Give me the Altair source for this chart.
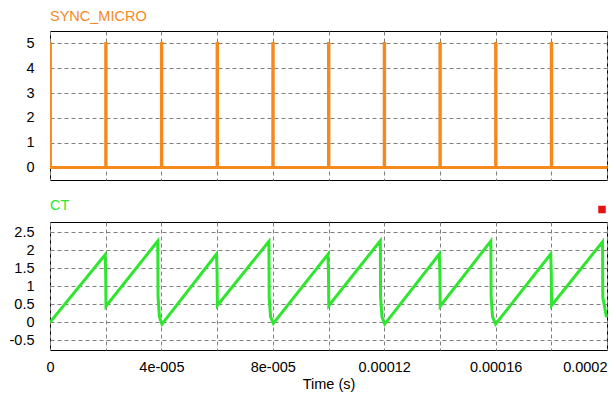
import altair as alt
import pandas as pd

# ---------------- data (time in microseconds) ----------------
sync_t = [0, 0, 0.15, 0.15,
          20, 20, 20.15, 20.15,
          40, 40, 40.15, 40.15,
          60, 60, 60.15, 60.15,
          80, 80, 80.15, 80.15,
          100, 100, 100.15, 100.15,
          120, 120, 120.15, 120.15,
          140, 140, 140.15, 140.15,
          160, 160, 160.15, 160.15,
          180, 180, 180.15, 180.15,
          200]
sync_v = [0, 5, 5, 0,
          0, 5, 5, 0,
          0, 5, 5, 0,
          0, 5, 5, 0,
          0, 5, 5, 0,
          0, 5, 5, 0,
          0, 5, 5, 0,
          0, 5, 5, 0,
          0, 5, 5, 0,
          0, 5, 5, 0,
          0]

ct_t = [0,
        19.8, 20.0, 20.1,
        38.7, 38.8, 39.3, 40.2,
        59.8, 60.0, 60.1,
        78.6, 78.7, 79.2, 80.2,
        99.8, 100.0, 100.1,
        118.6, 118.7, 119.2, 120.2,
        139.8, 140.0, 140.1,
        158.3, 158.4, 158.9, 160.0,
        179.8, 180.0, 180.1,
        198.4, 198.5, 199.8]
ct_v = [0,
        1.88, 1.35, 0.45,
        2.26, 0.70, 0.15, -0.05,
        1.90, 1.35, 0.47,
        2.25, 0.70, 0.15, -0.03,
        1.89, 1.35, 0.46,
        2.27, 0.70, 0.15, -0.05,
        1.90, 1.35, 0.45,
        2.26, 0.70, 0.15, -0.05,
        1.90, 1.35, 0.47,
        2.24, 0.70, 0.14]

x_grid = [0, 20, 40, 60, 80, 100, 120, 140, 160, 180, 200]
x_label_vals = [0, 40, 80, 120, 160, 200]
x_label_txt = ["0", "4e-005", "8e-005", "0.00012", "0.00016", "0.0002"]
top_y_ticks = [0, 1, 2, 3, 4, 5]
bot_y_ticks = [-0.5, 0, 0.5, 1, 1.5, 2, 2.5]

ORANGE = "#F5891C"
GREEN = "#2EE62E"
FONT = "Liberation Sans"
FS = 14.5
W = 557

sync_df = pd.DataFrame({"t": sync_t, "v": sync_v, "i": range(len(sync_t))})
ct_df = pd.DataFrame({"t": ct_t, "v": ct_v, "i": range(len(ct_t))})

label_expr = " : ".join(
    f"datum.value == {v} ? '{s}'" for v, s in zip(x_label_vals, x_label_txt)
) + " : ''"

grid_kw = dict(grid=True, gridColor="#808080", gridDash=[4, 3], gridWidth=1,
               domain=False, ticks=False)

x_scale = alt.Scale(domain=[0, 200], nice=False, zero=False)

top = alt.Chart(sync_df, title=alt.TitleParams(
    "SYNC_MICRO", anchor="start", frame="group", color=ORANGE, fontSize=FS,
    font=FONT, fontWeight="normal", offset=7)
).mark_line(color=ORANGE, strokeWidth=3, clip=True).encode(
    x=alt.X("t:Q", scale=x_scale,
            axis=alt.Axis(values=x_grid, labels=False, title=None,
                          minExtent=0, maxExtent=0, **grid_kw)),
    y=alt.Y("v:Q", scale=alt.Scale(domain=[-0.5, 5.5], nice=False, zero=False),
            axis=alt.Axis(values=top_y_ticks, title=None, labelExpr="datum.value + ''",
                          labelPadding=16, minExtent=41, maxExtent=41, **grid_kw)),
    order="i:Q",
).properties(width=W, height=149)

ct_line = alt.Chart(ct_df).mark_line(color=GREEN, strokeWidth=3, clip=True).encode(
    x=alt.X("t:Q", scale=x_scale,
            axis=alt.Axis(values=x_grid, labelExpr=label_expr, title="Time (s)",
                          labelPadding=10, titlePadding=4,
                          labelAlign=alt.condition("datum.value >= 200",
                                                   alt.value("right"), alt.value("center")),
                          **grid_kw)),
    y=alt.Y("v:Q", scale=alt.Scale(domain=[-0.77, 2.79], nice=False, zero=False),
            axis=alt.Axis(values=bot_y_ticks, title=None, labelExpr="datum.value + ''",
                          labelPadding=16, minExtent=41, maxExtent=41, **grid_kw)),
    order="i:Q",
)

marker = alt.Chart(pd.DataFrame({"m": ["CT"]})).mark_square(
    color="#E81010", size=56, opacity=1, clip=False
).encode(x=alt.value(552), y=alt.value(-12.5))

bottom = alt.layer(ct_line, marker, title=alt.TitleParams(
    "CT", anchor="start", frame="group", color=GREEN, fontSize=FS,
    font=FONT, fontWeight="normal", offset=-8.2)
).properties(width=W, height=128)

chart = alt.vconcat(top, bottom, spacing=16).properties(padding=0).configure(
    font=FONT
).configure_view(
    stroke="black", strokeWidth=1
).configure_axis(
    labelFont=FONT, labelFontSize=FS, labelColor="black",
    titleFont=FONT, titleFontSize=FS, titleColor="black", titleFontWeight="normal"
)

chart.save("out.html", embed_options={"renderer": "svg", "actions": False})
